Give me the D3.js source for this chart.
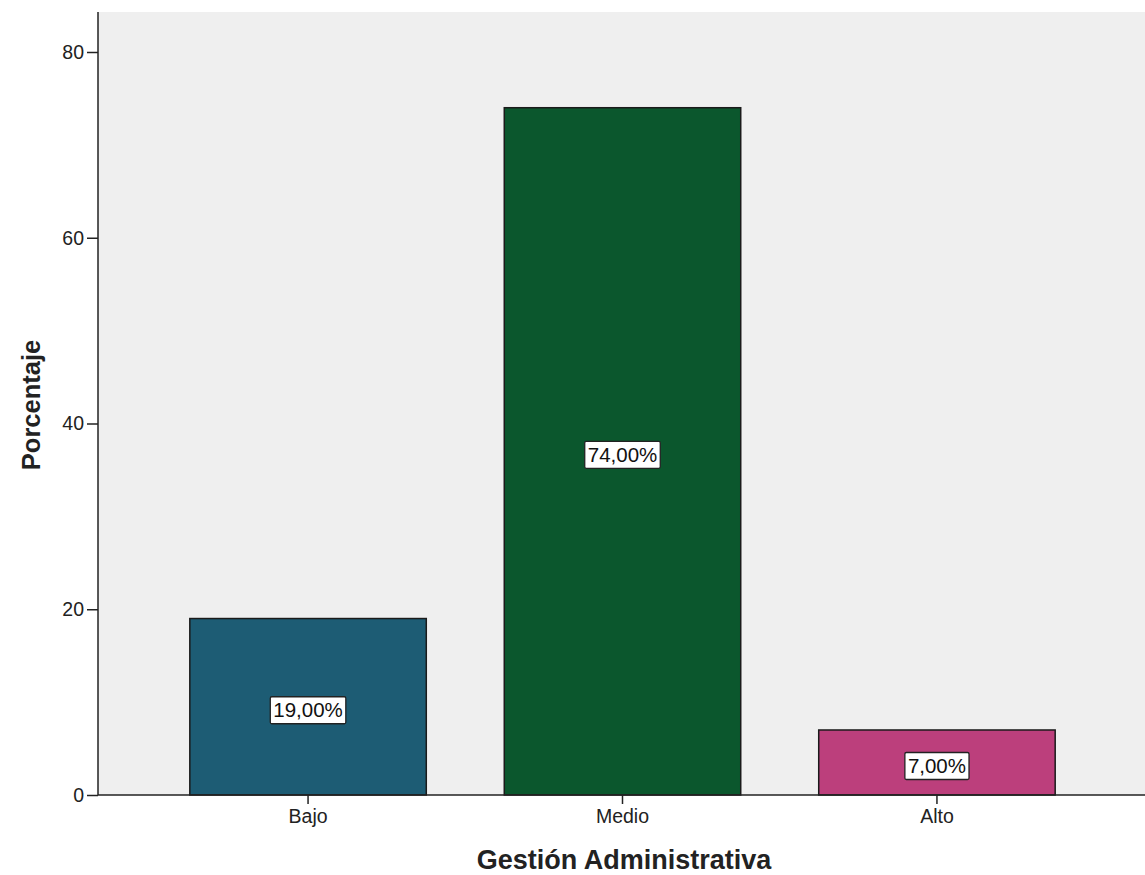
<!DOCTYPE html>
<html><head><meta charset="utf-8">
<script src="https://cdn.jsdelivr.net/npm/d3@7"></script>
<style>
body{margin:0;background:#fff;}
svg{display:block;font-family:"Liberation Sans",Arial,sans-serif;}
</style></head>
<body><svg id="c" width="1145" height="875"></svg>
<script>
const categories = ["Bajo","Medio","Alto"];
const values = [19, 74, 7];
const valueLabels = ["19,00%","74,00%","7,00%"];
const barColors = ["#1d5c74","#0b572d","#bc3f7c"];
const yTicks = [0,20,40,60,80];
const yTitle = "Porcentaje";
const xTitle = "Gestión Administrativa";

(function(){
const svg = d3.select("#c");
const pLeft = 98, pRight = 1147, pTop = 12, pBottom = 795;

const y = d3.scaleLinear().domain([0,80]).range([pBottom, 52]);
const x = d3.scaleBand().domain(categories).range([pLeft, pRight]).paddingInner(0.248).paddingOuter(0.292);

svg.append("rect").attr("x", pLeft).attr("y", pTop).attr("width", 1145-pLeft).attr("height", pBottom-pTop).attr("fill", "#efefef");

svg.selectAll("rect.bar").data(categories).enter().append("rect")
  .attr("class","bar")
  .attr("x", d => x(d))
  .attr("y", (d,i) => y(values[i]))
  .attr("width", x.bandwidth())
  .attr("height", (d,i) => y(0) - y(values[i]))
  .attr("fill", (d,i) => barColors[i])
  .attr("stroke", "#1a1a1a").attr("stroke-width", 1.5);

categories.forEach((c,i) => {
  const cx = x(c) + x.bandwidth()/2;
  const cy = (y(values[i]) + y(0))/2 + 3;
  const g = svg.append("g");
  const t = g.append("text").attr("x", cx).attr("y", cy).attr("text-anchor","middle")
    .attr("dominant-baseline","central").attr("font-size", 20.5).attr("fill","#111").text(valueLabels[i]);
  const bb = t.node().getBBox();
  g.insert("rect","text").attr("x", bb.x-3).attr("y", bb.y-1.5).attr("width", bb.width+6).attr("height", bb.height+4)
    .attr("fill","#fff").attr("stroke","#222").attr("stroke-width",1.3).attr("rx",1.5);
});

const yAxis = svg.append("g").attr("transform", `translate(${pLeft},0)`)
  .call(d3.axisLeft(y).tickValues(yTicks).tickSize(11).tickPadding(3));
yAxis.select(".domain").attr("d", `M0,${pTop}V${pBottom}`).attr("stroke","#222").attr("stroke-width",1.5);
yAxis.selectAll(".tick line").attr("stroke","#222").attr("stroke-width",1.5);
yAxis.selectAll(".tick text").attr("font-size",19.5).attr("fill","#222").attr("font-family","Liberation Sans, Arial, sans-serif");

const xAxis = svg.append("g").attr("transform", `translate(0,${pBottom})`)
  .call(d3.axisBottom(x).tickSize(9).tickPadding(5));
xAxis.select(".domain").attr("d", `M${pLeft},0H1145`).attr("stroke","#222").attr("stroke-width",1.5);
xAxis.selectAll(".tick line").attr("stroke","#222").attr("stroke-width",1.5);
xAxis.selectAll(".tick text").attr("font-size",19.5).attr("fill","#222").attr("font-family","Liberation Sans, Arial, sans-serif");

svg.append("text").attr("transform","translate(40,405) rotate(-90)").attr("text-anchor","middle")
  .attr("font-size",25.5).attr("font-weight","bold").attr("fill","#222").text(yTitle);
svg.append("text").attr("x",624).attr("y",869).attr("text-anchor","middle")
  .attr("font-size",27).attr("font-weight","bold").attr("fill","#222").text(xTitle);
})();
</script></body></html>
